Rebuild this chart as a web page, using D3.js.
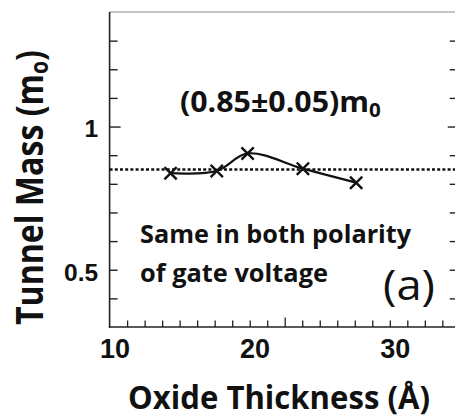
<!DOCTYPE html>
<html>
<head>
<meta charset="utf-8">
<script src="https://cdn.jsdelivr.net/npm/d3@7"></script>
<style>
  body { margin: 0; background: #fff; }
  svg { display: block; }
</style>
</head>
<body>
<svg id="chart" width="455" height="418"></svg>
<script>
// Extracted tunnel mass (units of m0) versus oxide thickness (Å)
const thickness  = [14.0, 17.3, 19.5, 23.45, 27.25];
const tunnelMass = [0.837, 0.845, 0.906, 0.853, 0.804];
const meanMass = 0.85;

// Axis ticks
const xLabelTicks = [10, 20, 30];
const xMinorTicks = [10.9, 12.15, 13.4, 14.65, 15.9, 17.15, 18.4, 19.65, 20.9,
                     23.4, 24.65, 25.9, 27.15, 28.4, 29.65, 30.9, 32.15, 33.4];
const xMajorTicks = [22.15];
const yLabelTicks = [0.5, 1];
const yMinorTicks = [0.4, 0.5, 0.6, 0.7, 0.8, 0.9, 1.1, 1.2, 1.3];
const yMajorTicks = [1.0];

const xDomain = [9.65, 34.5];
const yDomain = [0.3, 1.4];

const svg = d3.select("#chart");
const x = d3.scaleLinear().domain([10, 30]).range([114.5, 394.7]);
const y = d3.scaleLinear().domain(yDomain).range([327, 12]);

const x0 = x(xDomain[0]), x1 = x(xDomain[1]);
const y0 = y(yDomain[0]), y1 = y(yDomain[1]);

// Frame: thin grey top edge, black left/bottom axes
svg.append("line").attr("x1", x0).attr("x2", x1).attr("y1", y1).attr("y2", y1)
  .attr("stroke", "#8a8a8a").attr("stroke-width", 1.2);
svg.append("line").attr("x1", x1).attr("x2", x1).attr("y1", y1).attr("y2", y0)
  .attr("stroke", "#222").attr("stroke-width", 1.5);

function styleTicks(g, w) {
  g.select(".domain").remove();
  g.selectAll(".tick line").attr("stroke", "#222").attr("stroke-width", w);
  g.selectAll(".tick text").remove();
}

// Inward ticks on left and right
svg.append("g").attr("transform", `translate(${x0},0)`)
  .call(d3.axisLeft(y).tickValues(yMinorTicks).tickSize(-8))
  .call(g => styleTicks(g, 1.4));
svg.append("g").attr("transform", `translate(${x0},0)`)
  .call(d3.axisLeft(y).tickValues(yMajorTicks).tickSize(-11))
  .call(g => styleTicks(g, 1.4));
svg.append("g").attr("transform", `translate(${x1},0)`)
  .call(d3.axisRight(y).tickValues(yMinorTicks).tickSize(-8))
  .call(g => styleTicks(g, 1.4));
svg.append("g").attr("transform", `translate(${x1},0)`)
  .call(d3.axisRight(y).tickValues(yMajorTicks).tickSize(-10))
  .call(g => styleTicks(g, 1.4));

// Upward ticks on the bottom axis
svg.append("g").attr("transform", `translate(0,${y0})`)
  .call(d3.axisBottom(x).tickValues(xMinorTicks).tickSize(-6.5))
  .call(g => styleTicks(g, 1.3));
svg.append("g").attr("transform", `translate(0,${y0})`)
  .call(d3.axisBottom(x).tickValues(xMajorTicks).tickSize(-9.5))
  .call(g => styleTicks(g, 1.3));

svg.append("line").attr("x1", x0).attr("x2", x0).attr("y1", y1).attr("y2", y0 + 0.7)
  .attr("stroke", "#222").attr("stroke-width", 1.6);
svg.append("line").attr("x1", x0 - 0.7).attr("x2", x1).attr("y1", y0).attr("y2", y0)
  .attr("stroke", "#222").attr("stroke-width", 1.6);

// Tick labels
const tickFont = "'Liberation Sans', Arial, sans-serif";
svg.append("g").attr("transform", `translate(0,${y0})`)
  .call(d3.axisBottom(x).tickValues(xLabelTicks).tickSize(0).tickPadding(12).tickFormat(d3.format("d")))
  .call(g => {
    g.select(".domain").remove();
    g.selectAll(".tick text").attr("font-family", tickFont).attr("font-weight", "bold")
      .attr("font-size", 27).attr("fill", "#111");
  });
svg.append("g").attr("transform", `translate(${x0},0)`)
  .call(d3.axisLeft(y).tickValues(yLabelTicks).tickSize(0).tickPadding(11.5).tickFormat(d => String(d)))
  .call(g => {
    g.select(".domain").remove();
    g.selectAll(".tick text").attr("font-family", tickFont).attr("font-weight", "bold")
      .attr("font-size", 24.5).attr("fill", "#111").attr("dy", "0.42em");
  });

// Mean value reference line
svg.append("line")
  .attr("x1", x0).attr("x2", x1)
  .attr("y1", y(meanMass)).attr("y2", y(meanMass))
  .attr("stroke", "#111").attr("stroke-width", 2.5)
  .attr("stroke-dasharray", "3,2.2");

// Measured data: smooth line with x markers
const pts = thickness.map((t, i) => [t, tunnelMass[i]]);
svg.append("path")
  .datum(pts)
  .attr("fill", "none").attr("stroke", "#111").attr("stroke-width", 2.2)
  .attr("d", d3.line().x(d => x(d[0])).y(d => y(d[1])).curve(d3.curveCatmullRom.alpha(0.5)));
svg.append("g").selectAll("path")
  .data(pts).join("path")
  .attr("transform", d => `translate(${x(d[0])},${y(d[1])})`)
  .attr("d", d3.symbol(d3.symbolX, 100))
  .attr("fill", "none").attr("stroke", "#111").attr("stroke-width", 2.4);

// Text helper: squeeze a text block horizontally to a given width
const textFont = "'Open Sans', 'Noto Sans', sans-serif";
function label(build, { px, py, width, anchor = "start", rotate = 0, size, weight = "bold" }) {
  const g = svg.append("g");
  const t = g.append("text")
    .attr("font-family", textFont).attr("font-size", size)
    .attr("font-weight", weight).attr("fill", "#111")
    .attr("text-anchor", anchor);
  build(t);
  const w = t.node().getBBox().width;
  const k = width / w;
  g.attr("transform", `translate(${px},${py}) rotate(${rotate}) scale(${k},1)`);
  return g;
}

// Axis titles
label(t => t.text("Oxide Thickness (Å)"),
  { px: 279, py: 409, width: 302, anchor: "middle", size: 32 });
label(t => {
  t.append("tspan").text("Tunnel Mass (m");
  t.append("tspan").attr("font-size", 25).attr("dy", 5).text("o");
  t.append("tspan").attr("dy", -5).text(")");
}, { px: 43, py: 187.5, width: 275, anchor: "middle", rotate: -90, size: 38 });

// Annotations
label(t => {
  t.append("tspan").text("(0.85±0.05)m");
  t.append("tspan").attr("font-size", 19).attr("dy", 5).text("0");
}, { px: 180, py: 111.7, width: 201, size: 28, weight: 700 });
label(t => t.text("Same in both polarity"),
  { px: 140, py: 243, width: 272, size: 25 });
label(t => t.text("of gate voltage"),
  { px: 140, py: 282, width: 188, size: 25 });
label(t => t.text("(a)"),
  { px: 383, py: 300, width: 52, size: 42, weight: "normal" });
</script>
</body>
</html>
